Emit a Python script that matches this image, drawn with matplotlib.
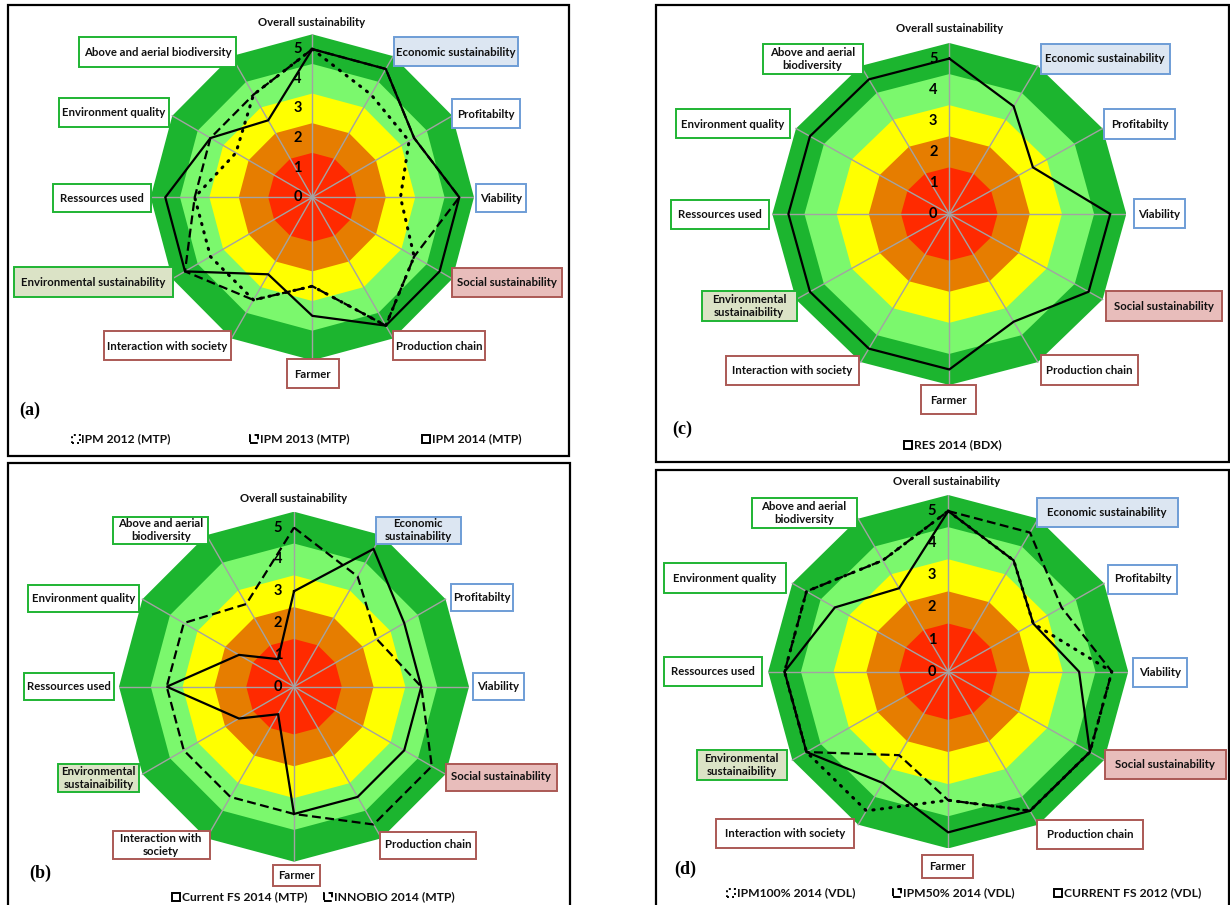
import numpy as np
import matplotlib.pyplot as plt
from matplotlib.patches import Polygon, Rectangle

plt.rcParams['font.family'] = ['Lato', 'DejaVu Sans']

# spokes, clockwise from the top
CATEGORIES = ["Overall sustainability", "Economic sustainability", "Profitabilty",
              "Viability", "Social sustainability", "Production chain", "Farmer",
              "Interaction with society", "Environmental sustainability",
              "Ressources used", "Environment quality", "Above and aerial biodiversity"]
TICKS = [0, 1, 2, 3, 4, 5]
BAND_EDGES = [5.5, 4.5, 3.5, 2.5, 1.5]
BAND_COLORS = ['#1cb52f', '#7bf86d', '#ffff00', '#e67d00', '#ff2a00']

# (a) IPM Montpellier
IPM_2012_MTP = [5, 4, 3.8, 3, 4, 5, 3, 4, 4, 4, 3, 4]
IPM_2013_MTP = [5, 5, 4, 5, 4, 5, 3, 4, 5, 4, 4, 4]
IPM_2014_MTP = [5, 5, 4, 5, 5, 5, 4, 3, 5, 5, 4, 3]
# (b) Montpellier 2014
CURRENT_FS_2014_MTP = [3, 5, 4, 4, 4, 4, 4, 1, 2, 4, 2, 1]
INNOBIO_2014_MTP = [5, 4, 3, 4, 5, 5, 4, 4, 4, 4, 4, 3]
# (c) Bordeaux
RES_2014_BDX = [5, 4, 3, 5, 5, 4, 5, 5, 5, 5, 5, 5]
# (d) Val de Loire
IPM100_2014_VDL = [5, 4, 3, 5, 5, 5, 4, 5, 5, 5, 5, 4]
IPM50_2014_VDL = [5, 5, 4, 5, 5, 5, 4, 3, 5, 5, 5, 4]
CURRENT_FS_2012_VDL = [5, 4, 3, 4, 5, 5, 5, 4, 5, 5, 4, 3]

# label texts as wrapped in each panel
LABELS_A = list(CATEGORIES)
LABELS_B = list(CATEGORIES)
LABELS_B[1] = "Economic\nsustainability"
LABELS_B[7] = "Interaction with\nsociety"
LABELS_B[8] = "Environmental\nsustainaibility"
LABELS_B[11] = "Above and aerial\nbiodiversity"
LABELS_CD = list(CATEGORIES)
LABELS_CD[8] = "Environmental\nsustainaibility"
LABELS_CD[11] = "Above and aerial\nbiodiversity"

KIND = ['none', 'eco', 'eco', 'eco', 'soc', 'soc', 'soc', 'soc', 'env', 'env', 'env', 'env']
EDGE = {'eco': '#6e9dd6', 'soc': '#ab5955', 'env': '#1fb433'}
FILL = {1: '#dce6f2', 4: '#e8bdbb', 8: '#dbe3c6'}

# layout in pixels: label boxes (cx, cy, w, h) in category order
BOX_A = [(312, 22, 0, 0), (456, 52, 124, 29), (486, 114, 68, 29), (501, 198, 50, 28),
         (507, 283, 109, 29), (439, 346, 92, 29), (312.5, 374, 52, 29), (167.5, 346, 127, 29),
         (93.5, 282.5, 159, 30), (102, 198, 98, 28), (114, 113, 109, 29), (157.5, 52, 157, 30)]
BOX_B = [(294, 498, 0, 0), (418, 530, 85, 27), (482, 597, 62, 27), (498, 686, 51, 27),
         (501, 777, 111, 27), (428, 845, 96, 27), (296, 875, 47, 21), (161, 845, 97, 28),
         (98.5, 778, 81, 28), (69, 686, 90, 27), (83.5, 598, 111, 27), (161, 530, 95, 27)]
BOX_C = [(950, 29, 0, 0), (1105, 59, 129, 30), (1139.5, 124, 71, 30), (1159.5, 214, 51, 29),
         (1164, 306, 116, 30), (1089, 370, 97, 30), (948, 400, 55, 29), (792, 370, 133, 29),
         (749, 306, 95, 30), (720, 215, 98, 29), (733, 124, 114, 29), (812.5, 59, 100, 30)]
BOX_D = [(947, 481, 0, 0), (1107, 512, 141, 29), (1142.5, 579, 69, 29), (1160, 672, 54, 29),
         (1165, 764, 121, 29), (1090, 834, 106, 29), (947, 866, 51, 23), (785, 833, 138, 29),
         (741.5, 765, 90, 30), (712.5, 671, 98, 29), (724.5, 578, 122, 30), (804, 513, 105, 30)]

W, H = 1230, 905
fig = plt.figure(figsize=(W / 100, H / 100), dpi=100)
ANG = np.arange(12) * 2 * np.pi / 12
STYLE = {'solid': '-', 'dash': (0, (4, 2)), 'dot': (0, (0.4, 2.4))}


def fx(x):
    return x / W


def fy(y):
    return 1 - y / H


def frame(x0, y0, x1, y1):
    fig.add_artist(Rectangle((fx(x0), fy(y1)), (x1 - x0) / W, (y1 - y0) / H,
                             transform=fig.transFigure, fc='none', ec='black', lw=1.6, zorder=1))


def radar(cx, cy, rx, ry):
    ax = fig.add_axes([fx(cx - rx), fy(cy + ry), 2 * rx / W, 2 * ry / H])
    ax.set_xlim(-5.5, 5.5)
    ax.set_ylim(-5.5, 5.5)
    ax.axis('off')
    for lvl, col in zip(BAND_EDGES, BAND_COLORS):
        pts = np.column_stack([lvl * np.sin(ANG), lvl * np.cos(ANG)])
        ax.add_patch(Polygon(pts, closed=True, fc=col, ec='none', zorder=1))
    for a in ANG:
        ax.plot([0, 5.5 * np.sin(a)], [0, 5.5 * np.cos(a)], color='#a3a3a3', lw=1.0, zorder=2)
    for t in TICKS:
        ax.text(-0.5, t, str(t), ha='center', va='center', fontsize=10.5,
                fontweight='bold', zorder=3, clip_on=False)
    return ax


def series(ax, vals, style):
    v = np.append(vals, vals[0])
    a = np.append(ANG, ANG[0])
    if style == 'dot':
        ax.plot(v * np.sin(a), v * np.cos(a), color='black', lw=2.2, ls=STYLE[style],
                dash_capstyle='round', zorder=4, clip_on=False)
    else:
        ax.plot(v * np.sin(a), v * np.cos(a), color='black', lw=1.6, ls=STYLE[style],
                zorder=4, solid_joinstyle='miter', clip_on=False)


def labels(texts, boxes):
    for i, (txt, (cx, cy, w, h)) in enumerate(zip(texts, boxes)):
        if KIND[i] != 'none':
            fig.add_artist(Rectangle((fx(cx - w / 2), fy(cy + h / 2)), w / W, h / H,
                                     transform=fig.transFigure, fc=FILL.get(i, 'white'),
                                     ec=EDGE[KIND[i]], lw=1.4, zorder=3))
        fig.text(fx(cx), fy(cy), txt, ha='center', va='center', fontsize=8.2,
                 fontweight='bold', linespacing=1.3, color='#111111', zorder=4)


def legend(entries, y):
    for x, style, txt in entries:
        fig.add_artist(Rectangle((fx(x - 4), fy(y + 4)), 8 / W, 8 / H, transform=fig.transFigure,
                                 fc='white', ec='black', lw=1.4,
                                 ls=STYLE[style] if style != 'dot' else (0, (1, 1.6)), zorder=3))
        fig.text(fx(x + 6), fy(y), txt, ha='left', va='center', fontsize=8.7,
                 fontweight='bold', color='#111111', zorder=4)


def tag(x, y, txt):
    fig.text(fx(x), fy(y), txt, ha='center', va='center', fontsize=13,
             fontweight='bold', family='Liberation Serif')


# frames
frame(8, 5, 569, 456)
frame(8, 463, 570, 910)
frame(656, 5, 1229, 462)
frame(656, 470, 1229, 910)

# (a)
ax = radar(312.3, 197.3, 161.7, 163)
series(ax, IPM_2012_MTP, 'dot')
series(ax, IPM_2013_MTP, 'dash')
series(ax, IPM_2014_MTP, 'solid')
labels(LABELS_A, BOX_A)
tag(30, 410, '(a)')
legend([(75.5, 'dot', 'IPM 2012 (MTP)'), (254.5, 'dash', 'IPM 2013 (MTP)'),
        (425.5, 'solid', 'IPM 2014 (MTP)')], 439)

# (b)
ax = radar(294, 686.7, 175, 175)
series(ax, INNOBIO_2014_MTP, 'dash')
series(ax, CURRENT_FS_2014_MTP, 'solid')
labels(LABELS_B, BOX_B)
tag(40, 873, '(b)')
legend([(176, 'solid', 'Current FS 2014 (MTP)'), (328, 'dash', 'INNOBIO 2014 (MTP)')], 897)

# (c)
ax = radar(949.3, 214, 177, 171)
series(ax, RES_2014_BDX, 'solid')
labels(LABELS_CD, BOX_C)
tag(682, 429, '(c)')
legend([(908, 'solid', 'RES 2014 (BDX)')], 445)

# (d)
ax = radar(948.2, 671.7, 180, 176.7)
series(ax, IPM100_2014_VDL, 'dot')
series(ax, IPM50_2014_VDL, 'dash')
series(ax, CURRENT_FS_2012_VDL, 'solid')
labels(LABELS_CD, BOX_D)
tag(685, 869, '(d)')
legend([(731, 'dot', 'IPM100% 2014 (VDL)'), (897, 'dash', 'IPM50% 2014 (VDL)'),
        (1058, 'solid', 'CURRENT FS 2012 (VDL)')], 893)

fig.savefig('out.png', dpi=100)
